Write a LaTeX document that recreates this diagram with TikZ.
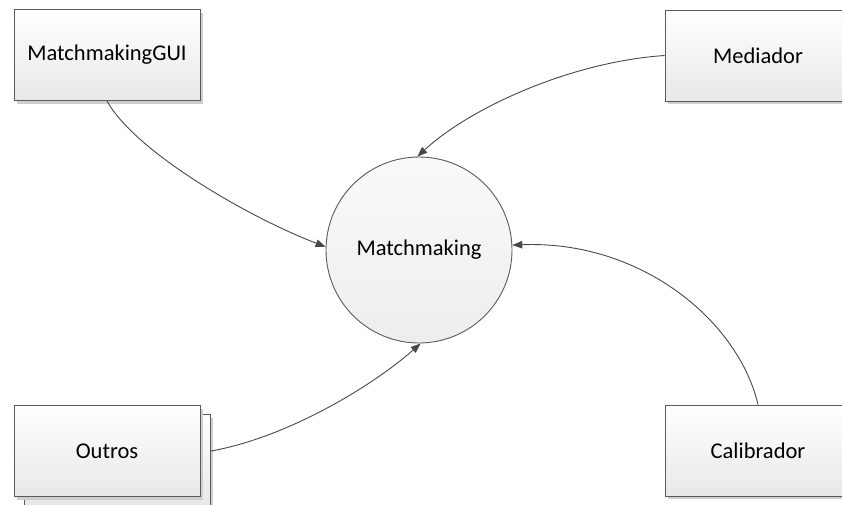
\documentclass[tikz,border=0pt]{standalone}
\usepackage{fontspec}
\setmainfont{Carlito}
\usetikzlibrary{arrows.meta,calc}
\definecolor{edge}{HTML}{5A5A5A}
\definecolor{shade}{HTML}{CFCFCF}
\definecolor{fillbot}{HTML}{E8E8E8}
\definecolor{circbot}{HTML}{EDEDED}
\tikzset{
  entity/.style={draw=edge, line width=0.9pt, top color=white, bottom color=fillbot,
    minimum width=186pt, minimum height=91pt, inner sep=0pt, font=\fontsize{22.5}{26}\selectfont},
  process/.style={circle, draw=edge, line width=0.9pt, top color=white!98!black, bottom color=circbot,
    minimum size=186pt, inner sep=0pt, font=\fontsize{22.5}{26}\selectfont},
  flow/.style={draw=edge!80!black, line width=0.9pt, -{Triangle[length=10pt,width=7.5pt]}},
  shadowbox/.style={fill=shade, draw=none, minimum width=186pt, minimum height=91pt}
}
\begin{document}
\begin{tikzpicture}[x=1pt,y=-1pt]
\useasboundingbox (0,0) rectangle (842,504);
\clip (0,0) rectangle (842,504);
% soft shadows behind the boxes
\node[shadowbox] at (110,58) {};
\node[shadowbox] at (761,58.5) {};
\node[shadowbox] at (761,453.5) {};
\node[shadowbox] at (120,463) {};
% stacked second sheet behind "Outros"
\node[entity] (outback) at (117.5,460) {};
\node[shadowbox] at (110,454) {};
% external entities
\node[entity] (gui) at (107,55) {MatchmakingGUI};
\node[entity] (med) at (758,55.5) {Mediador};
\node[entity] (out) at (107,451) {Outros};
\node[entity] (cal) at (758,450.5) {Calibrador};
% central process
\node[process] (m) at (419,250) {Matchmaking};
% data flows
\draw[flow] (gui.south) .. controls (135,152) and (250,218) .. (m.178);
\draw[flow] (med.west) .. controls (570,62) and (470,108) .. (m.91);
\draw[flow] (out.east -| outback.east) .. controls (285,438) and (370,388) .. (m.-89);
\draw[flow] (cal.north) .. controls (738,320) and (640,240) .. (m.3);
\end{tikzpicture}
\end{document}
